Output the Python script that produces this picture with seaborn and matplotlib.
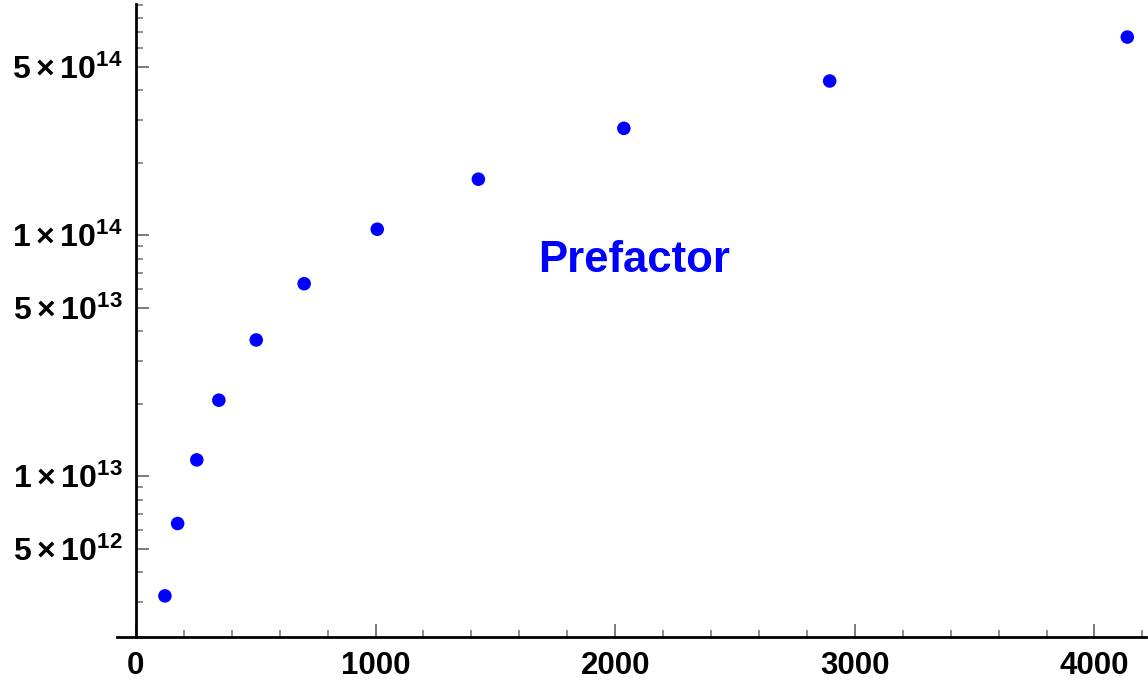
import numpy as np
import matplotlib
matplotlib.use("Agg")
import matplotlib.pyplot as plt
import matplotlib.ticker as mticker
import seaborn as sns

# Prefactor values versus system size
sizes = [121, 174, 254, 346, 502, 702, 1007, 1429, 2036, 2895, 4137]
prefactor = [3.19e12, 6.37e12, 1.17e13, 2.07e13, 3.68e13, 6.30e13,
             1.06e14, 1.71e14, 2.78e14, 4.37e14, 6.65e14]

x_major = [0, 1000, 2000, 3000, 4000]
y_major = [5e12, 1e13, 5e13, 1e14, 5e14]
y_labels = [r"$5\times10^{12}$", r"$1\times10^{13}$", r"$5\times10^{13}$",
            r"$1\times10^{14}$", r"$5\times10^{14}$"]
annotation = "Prefactor"

sns.set_theme(style="white")
plt.rcParams["font.family"] = ["Liberation Sans", "DejaVu Sans"]
plt.rcParams["font.weight"] = "bold"
plt.rcParams["mathtext.fontset"] = "custom"
plt.rcParams["mathtext.rm"] = "Liberation Sans:bold"
plt.rcParams["mathtext.it"] = "Liberation Sans:bold"
plt.rcParams["mathtext.bf"] = "Liberation Sans:bold"
plt.rcParams["mathtext.sf"] = "Liberation Sans:bold"

W, H = 1148, 681
fig = plt.figure(figsize=(W / 100, H / 100), dpi=100)
ax = fig.add_axes([117 / W, 1 - 637 / H, (1146 - 117) / W, (637 - 4) / H])

blue = "#0000ff"
sns.scatterplot(x=sizes, y=prefactor, ax=ax, color=blue, s=95,
                linewidth=0, edgecolor="none", zorder=3)

ax.set_yscale("log")
ax.set_xlim(-79, 4215)
ax.set_ylim(2.154e12, 9.12e14)

for side in ("top", "right"):
    ax.spines[side].set_visible(False)
ax.spines["left"].set_position(("data", 0))
for side in ("left", "bottom"):
    ax.spines[side].set_linewidth(2.0)
    ax.spines[side].set_color("black")
    ax.spines[side].set_zorder(2.5)

# x ticks
ax.xaxis.set_major_locator(mticker.FixedLocator(x_major))
ax.xaxis.set_minor_locator(mticker.MultipleLocator(200))
ax.xaxis.set_major_formatter(mticker.FixedFormatter([str(v) for v in x_major]))

# y ticks: labelled 1 and 5 per decade, unlabelled minors elsewhere
minor_y = [k * 10.0 ** e for e in range(12, 15) for k in range(2, 10)
           if k != 5]
ax.yaxis.set_major_locator(mticker.FixedLocator(y_major))
ax.yaxis.set_major_formatter(mticker.FixedFormatter(y_labels))
ax.yaxis.set_minor_locator(mticker.FixedLocator(minor_y))
ax.yaxis.set_minor_formatter(mticker.NullFormatter())

tick_gray = "#7a7a7a"
ax.tick_params(axis="both", which="both", bottom=True, left=True,
               top=False, right=False)
ax.tick_params(axis="both", which="major", direction="in", length=9.5,
               width=1.4, color=tick_gray, labelcolor="black")
ax.tick_params(axis="both", which="minor", direction="in", length=5,
               width=1.2, color=tick_gray)
ax.tick_params(axis="x", which="major", pad=10, labelsize=22.5)
ax.tick_params(axis="y", which="major", pad=9.5, labelsize=23)
for lab in ax.get_xticklabels() + ax.get_yticklabels():
    lab.set_fontweight("bold")

ax.text(2077, 7.9e13, annotation, color=blue, fontsize=31.5,
        fontweight="bold", ha="center", va="center")

ax.set_xlabel("")
ax.set_ylabel("")
fig.savefig("out.png", dpi=100)
